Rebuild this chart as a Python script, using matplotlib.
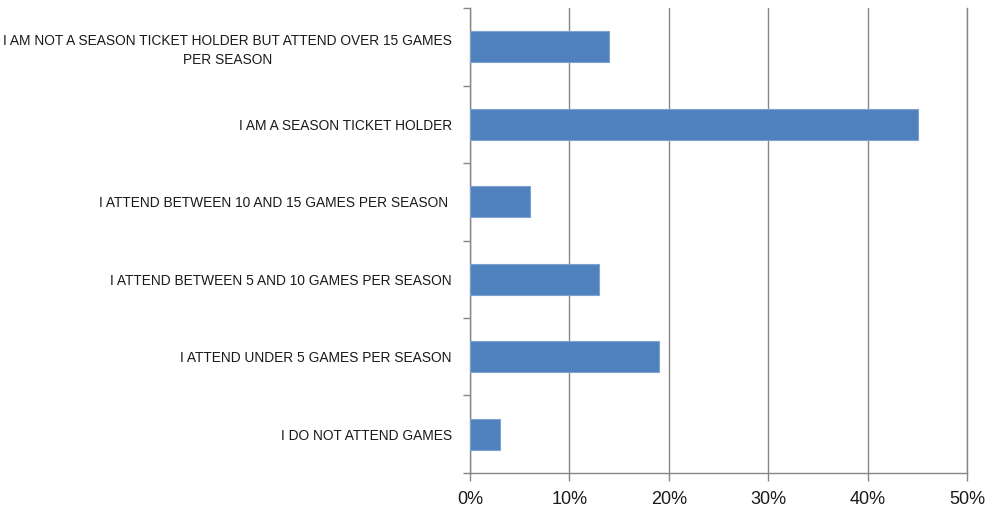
import matplotlib
matplotlib.use("Agg")
import matplotlib.pyplot as plt
from matplotlib.ticker import FuncFormatter, MultipleLocator

categories = [
    "I DO NOT ATTEND GAMES",
    "I ATTEND UNDER 5 GAMES PER SEASON",
    "I ATTEND BETWEEN 5 AND 10 GAMES PER SEASON",
    "I ATTEND BETWEEN 10 AND 15 GAMES PER SEASON ",
    "I AM A SEASON TICKET HOLDER",
    "I AM NOT A SEASON TICKET HOLDER BUT ATTEND OVER 15 GAMES\nPER SEASON",
]
shares = [3, 19, 13, 6, 45, 14]

plt.rcParams["font.family"] = ["Liberation Sans", "DejaVu Sans"]

fig = plt.figure(figsize=(9.85, 5.14), dpi=100)
ax = fig.add_axes([0.477, 0.080, 0.505, 0.904])

grid_col = "#868686"
ax.barh(range(len(categories)), shares, height=0.4, color="#4F81BD",
        edgecolor="#7FA3D0", linewidth=0.8, zorder=3)

ax.set_xlim(0, 50)
ax.set_ylim(-0.5, len(categories) - 0.5)
ax.xaxis.set_major_locator(MultipleLocator(10))
ax.xaxis.set_major_formatter(FuncFormatter(lambda v, _: f"{v:.0f}%"))
ax.grid(axis="x", color=grid_col, linewidth=1.0, zorder=0)

ax.set_yticks([i - 0.5 for i in range(len(categories) + 1)], minor=False)
ax.set_yticklabels([])
ax.set_yticks(range(len(categories)), minor=True)
ax.set_yticklabels(categories, minor=True, fontsize=9.9, color="#1a1a1a",
                   multialignment="center", linespacing=1.45)
ax.tick_params(axis="y", which="minor", length=0, pad=13)
ax.tick_params(axis="y", which="major", length=5, color=grid_col, width=1)
ax.tick_params(axis="x", length=6, color=grid_col, width=1, labelsize=13,
               labelcolor="#1a1a1a", pad=7)

ax.spines["top"].set_visible(False)
for side in ("left", "bottom", "right"):
    ax.spines[side].set_color(grid_col)
    ax.spines[side].set_linewidth(1.0)

fig.savefig("out.png", dpi=100)
